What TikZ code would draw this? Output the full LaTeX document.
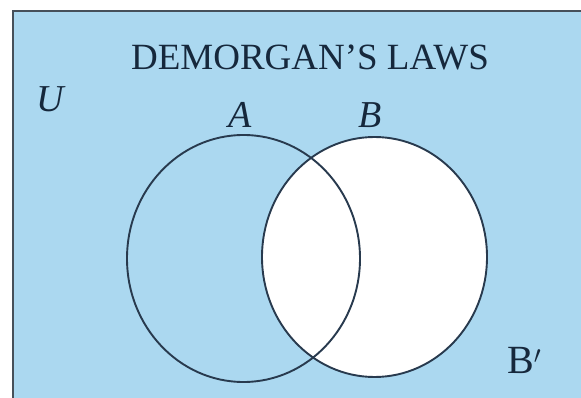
\documentclass[tikz,border=0pt]{standalone}
\usepackage{fontspec}
\setmainfont{Liberation Serif}
\usetikzlibrary{shapes.geometric,positioning}
\definecolor{venn bg}{RGB}{171,216,240}
\definecolor{venn line}{RGB}{40,58,78}
\definecolor{venn text}{RGB}{22,40,60}
\definecolor{venn frame}{RGB}{70,80,90}

\begin{document}
\begin{tikzpicture}[
    x=1pt,y=-1pt,
    label text/.style={text=venn text,inner sep=0pt,anchor=base,font=\fontsize{38}{40}\selectfont},
    set outline/.style={ellipse,draw=venn line,line width=1.9pt,inner sep=0pt}
]
    \useasboundingbox (0,0) rectangle (581,398);
    \fill[venn bg] (13,11) rectangle (581,398);
    \draw[venn frame,line width=2.2pt] (13,398) -- (13,11) -- (581,11);

    % sets
    \node[set outline,fill=white,minimum width=225pt,minimum height=240pt] (setB) at (374.5,257) {};
    \node[set outline,minimum width=233pt,minimum height=247pt] (setA) at (243.5,258.5) {};

    % labels
    \node[label text,font=\fontsize{37}{40}\selectfont] (title) at (310,70) {DEMORGAN’S LAWS};
    \node[label text] (univ) at (51,112) {\textit{U}};
    \node[label text] (labA) at (240,128) {\textit{A}};
    \node[label text] (labB) at (370,128) {\textit{B}};
    \node[label text,anchor=base west,font=\fontsize{40}{42}\selectfont] (compB) at (507,373) {B$'$};
\end{tikzpicture}
\end{document}
